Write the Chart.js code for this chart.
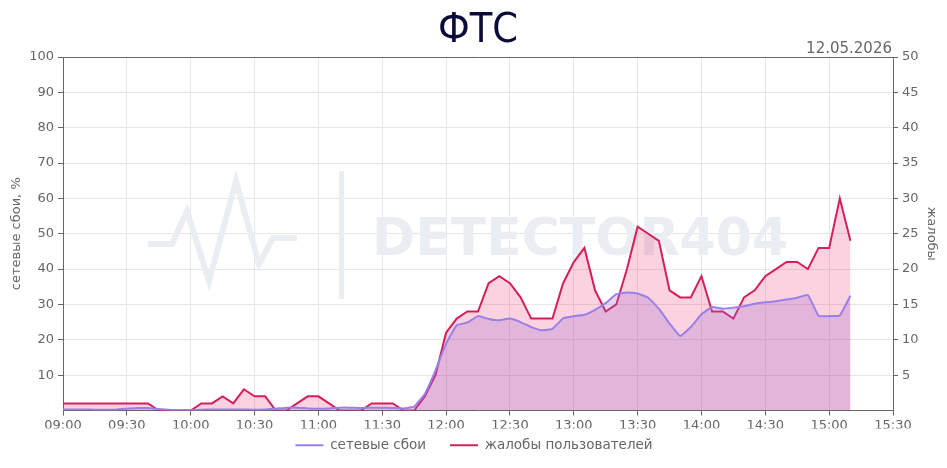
<!DOCTYPE html>
<html>
<head>
<meta charset="utf-8">
<script src="https://cdn.jsdelivr.net/npm/chart.js@4.4.1/dist/chart.umd.min.js"></script>
<style>
html,body{margin:0;padding:0;background:#fff;}
#wrap{width:947px;height:468px;position:relative;}
</style>
</head>
<body>
<div id="wrap"><canvas id="c" width="947" height="468"></canvas></div>
<script>
const chartTitle = "ФТС";
const chartDate = "12.05.2026";
const seriesNames = ["сетевые сбои", "жалобы пользователей"];
const leftAxisTitle = "сетевые сбои, %";
const rightAxisTitle = "жалобы";

const times = [
 "09:00","09:05","09:10","09:15","09:20","09:25","09:30","09:35","09:40","09:45","09:50","09:55",
 "10:00","10:05","10:10","10:15","10:20","10:25","10:30","10:35","10:40","10:45","10:50","10:55",
 "11:00","11:05","11:10","11:15","11:20","11:25","11:30","11:35","11:40","11:45","11:50","11:55",
 "12:00","12:05","12:10","12:15","12:20","12:25","12:30","12:35","12:40","12:45","12:50","12:55",
 "13:00","13:05","13:10","13:15","13:20","13:25","13:30","13:35","13:40","13:45","13:50","13:55",
 "14:00","14:05","14:10","14:15","14:20","14:25","14:30","14:35","14:40","14:45","14:50","14:55",
 "15:00","15:05","15:10"
];

const outages = [
 0.3,0.3,0.3,0.2,0.2,0.3,0.5,0.7,0.7,0.4,0.2,0.1,
 0.1,0.2,0.3,0.3,0.3,0.3,0.2,0.3,0.5,0.8,0.8,0.6,
 0.5,0.6,0.8,0.8,0.7,0.8,0.8,0.7,0.6,1.1,4.7,11.3,
 18.9,24.1,24.9,26.7,25.9,25.5,26.0,25.0,23.6,22.7,23.1,26.1,
 26.7,27.1,28.5,30.4,32.9,33.4,33.1,31.9,28.8,24.6,21.1,23.6,
 27.2,29.3,28.8,29.1,29.5,30.2,30.6,30.9,31.4,31.9,32.7,26.8,
 26.7,26.9,32.5
];

const complaints = [
 1,1,1,1,1,1,1,1,1,0,0,0,
 0,1,1,2,1,3,2,2,0,0,1,2,
 2,1,0,0,0,1,1,1,0,0,2,5,
 11,13,14,14,18,19,18,16,13,13,13,18,
 21,23,17,14,15,20,26,25,24,17,16,16,
 19,14,14,13,16,17,19,20,21,21,20,23,
 23,30,24
];

const xTickLabels = ["09:00","09:30","10:00","10:30","11:00","11:30","12:00","12:30","13:00","13:30","14:00","14:30","15:00","15:30"];
const leftTicks = [10,20,30,40,50,60,70,80,90,100];
const rightTicks = [5,10,15,20,25,30,35,40,45,50];

function toMin(s){const p=s.split(":");return (+p[0])*60+(+p[1]);}
function fmt(m){const h=Math.floor(m/60), mm=m%60;return String(h).padStart(2,"0")+":"+String(mm).padStart(2,"0");}

const xMin = toMin(xTickLabels[0]);
const xMax = toMin(xTickLabels[xTickLabels.length-1]);

const FONT = "'DejaVu Sans', sans-serif";
const GREY = "#666666";
const GRID = "#e6e6e6";

const decorPlugin = {
  id: "decor",
  afterLayout(chart){
    if (chart.legend) { chart.legend.top -= 14; chart.legend.bottom -= 14; }
  },
  beforeDatasetsDraw(chart){
    const ctx = chart.ctx, a = chart.chartArea;
    ctx.save();
    ctx.strokeStyle = "#eaedf1";
    ctx.fillStyle = "#eaedf1";
    ctx.lineWidth = 6;
    ctx.lineJoin = "miter";
    const L = a.left, T = a.top;
    ctx.beginPath();
    ctx.moveTo(L+85, T+187);
    ctx.lineTo(L+109, T+187);
    ctx.lineTo(L+124, T+154);
    ctx.lineTo(L+146, T+224);
    ctx.lineTo(L+173, T+124);
    ctx.lineTo(L+196, T+207);
    ctx.lineTo(L+210, T+181);
    ctx.lineTo(L+234, T+181);
    ctx.stroke();
    ctx.fillRect(L+276, T+114, 5, 128);
    ctx.font = "bold 52px 'DejaVu Sans', sans-serif";
    ctx.textBaseline = "middle";
    ctx.textAlign = "left";
    ctx.fillText("DETECTOR404", L+309, T+184);
    ctx.restore();
  },
  afterDraw(chart){
    const ctx = chart.ctx, a = chart.chartArea;
    ctx.save();
    ctx.fillStyle = "#0b0b3a";
    ctx.font = "41px 'DejaVu Sans Condensed', 'DejaVu Sans', sans-serif";
    ctx.textAlign = "center";
    ctx.textBaseline = "alphabetic";
    ctx.fillText(chartTitle, (a.left+a.right)/2, 42);
    ctx.fillStyle = GREY;
    ctx.font = "15px " + FONT;
    ctx.textAlign = "right";
    ctx.fillText(chartDate, a.right-1, 53);
    ctx.restore();
  }
};

const ds0 = times.map((t,i)=>({x:toMin(t), y:outages[i]}));
const ds1 = times.map((t,i)=>({x:toMin(t), y:complaints[i]}));

new Chart(document.getElementById("c"), {
  type: "line",
  data: {
    datasets: [
      {
        label: seriesNames[0],
        data: ds0,
        yAxisID: "y",
        borderColor: "#9b7fe8",
        backgroundColor: "rgba(160,105,205,0.27)",
        fill: "origin",
        borderWidth: 2,
        pointRadius: 0,
        tension: 0.1
      },
      {
        label: seriesNames[1],
        data: ds1,
        yAxisID: "y1",
        borderColor: "#d41f5e",
        backgroundColor: "rgba(233,30,99,0.2)",
        fill: "origin",
        borderWidth: 2,
        pointRadius: 0,
        tension: 0
      }
    ]
  },
  options: {
    responsive: false,
    animation: false,
    devicePixelRatio: 1,
    layout: { padding: { top: 57, left: 9, right: 8, bottom: -8 } },
    plugins: {
      title: { display: false },
      tooltip: { enabled: false },
      legend: {
        display: true,
        position: "bottom",
        labels: {
          usePointStyle: true,
          pointStyle: "line",
          pointStyleWidth: 28,
          boxHeight: 3,
          color: GREY,
          font: { family: FONT, size: 13.5 },
          padding: 24
        }
      }
    },
    scales: {
      x: {
        type: "linear",
        min: xMin,
        max: xMax,
        afterBuildTicks(s){ s.ticks = xTickLabels.map(l=>({value: toMin(l)})); },
        afterFit(s){ s.height = 18; },
        ticks: {
          callback: v => fmt(v),
          color: GREY,
          font: { family: FONT, size: 13 },
          maxRotation: 0,
          autoSkip: false,
          padding: 2
        },
        grid: { color: GRID, tickColor: GREY, tickLength: 5, drawOnChartArea: true },
        border: { display: true, color: GREY }
      },
      y: {
        position: "left",
        min: 0,
        max: 100,
        afterBuildTicks(s){ s.ticks = [0].concat(leftTicks).map(v=>({value:v})); },
        afterFit(s){ s.width = 54; },
        ticks: {
          callback: v => v === 0 ? "" : String(v),
          color: GREY,
          font: { family: FONT, size: 13 },
          padding: 4
        },
        title: { display: true, text: leftAxisTitle, color: GREY, font: { family: FONT, size: 13 }, padding: 0 },
        grid: {
          color: c => (c.tick && c.tick.value === 100) ? GREY : GRID,
          tickColor: c => (c.tick && c.tick.value === 0) ? "rgba(0,0,0,0)" : GREY,
          tickLength: 5
        },
        border: { display: true, color: GREY }
      },
      y1: {
        position: "right",
        min: 0,
        max: 50,
        afterBuildTicks(s){ s.ticks = [0].concat(rightTicks).map(v=>({value:v})); },
        afterFit(s){ s.width = 46; },
        ticks: {
          callback: v => v === 0 ? "" : String(v),
          color: GREY,
          font: { family: FONT, size: 13 },
          padding: 4
        },
        title: { display: true, text: rightAxisTitle, color: GREY, font: { family: FONT, size: 13 }, padding: 0 },
        grid: {
          drawOnChartArea: false,
          tickColor: c => (c.tick && c.tick.value === 0) ? "rgba(0,0,0,0)" : GREY,
          tickLength: 5
        },
        border: { display: true, color: GREY }
      }
    }
  },
  plugins: [decorPlugin]
});
</script>
</body>
</html>
